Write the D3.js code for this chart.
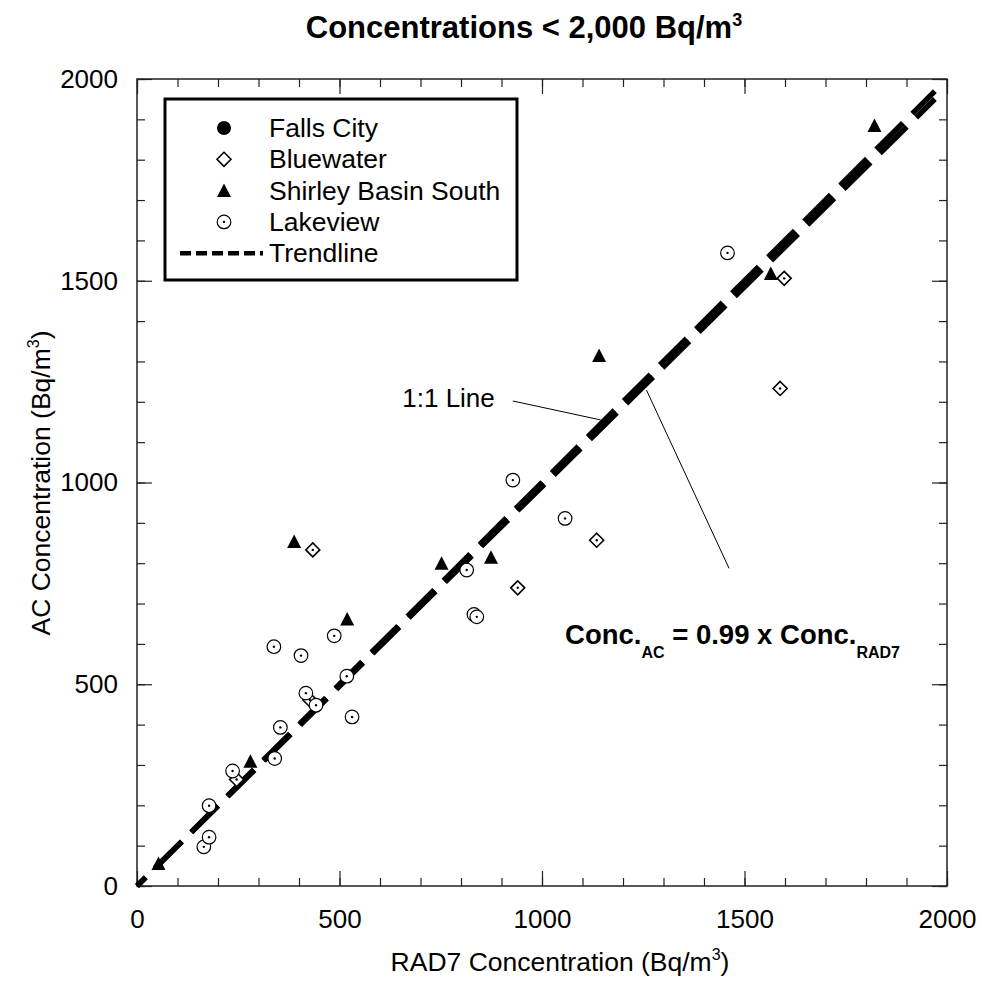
<!DOCTYPE html>
<html lang="en">
<head>
<meta charset="UTF-8">
<title>Concentrations &lt; 2,000 Bq/m3</title>
<script src="https://d3js.org/d3.v7.min.js"></script>
<style>
  body { margin: 0; background: #fff; }
  text { font-family: "Liberation Sans", Arial, sans-serif; fill: #000; }
  .tick text { font-size: 26px; }
</style>
</head>
<body>
<script>
// ---- data (RAD7, AC) ----
var fallsCity = [];
var bluewater = [[246, 264], [427, 461], [434, 833], [940, 739], [1135, 857], [1598, 1506], [1588, 1233]];
var shirleyBasin = [[53, 56], [280, 309], [388, 854], [519, 662], [752, 800], [874, 815], [1141, 1315], [1565, 1518], [1821, 1885]];
var lakeview = [[165, 97], [178, 121], [178, 199], [236, 285], [340, 316], [354, 393], [338, 593], [405, 571],
                [417, 478], [442, 448], [518, 520], [531, 419], [487, 620], [814, 783], [832, 673], [839, 667],
                [928, 1006], [1057, 911], [1458, 1569]];
var lineEnds = [0, 1970];
var trendSlope = 0.99;
var majorTicks = [0, 500, 1000, 1500, 2000];
var minorTicks = d3.range(0, 2001, 100);
var legendNames = ["Falls City", "Bluewater", "Shirley Basin South", "Lakeview", "Trendline"];

var width = 982, height = 1002;
var plotL = 137, plotR = 947, plotT = 79, plotB = 886;

var x = d3.scaleLinear().domain([0, 2000]).range([plotL, plotR]);
var y = d3.scaleLinear().domain([0, 2000]).range([plotB, plotT]);

var svg = d3.select("body").append("svg")
    .attr("width", width).attr("height", height);

// title
var title = svg.append("text")
    .attr("x", 524).attr("y", 38)
    .attr("text-anchor", "middle")
    .style("font-size", "31px").style("font-weight", "bold");
title.append("tspan").text("Concentrations < 2,000 Bq/m");
title.append("tspan").attr("dy", -12).style("font-size", "18px").text("3");

// frame
svg.append("rect")
    .attr("x", plotL).attr("y", plotT)
    .attr("width", plotR - plotL).attr("height", plotB - plotT)
    .attr("fill", "none").attr("stroke", "#222").attr("stroke-width", 1.5);

// minor ticks on all four sides, pointing in
function minorAxis(axisFn, transform) {
  var g = svg.append("g").attr("transform", transform)
      .call(axisFn.tickValues(minorTicks).tickSize(-8).tickFormat(""));
  g.select(".domain").remove();
}
minorAxis(d3.axisBottom(x), "translate(0," + plotB + ")");
minorAxis(d3.axisTop(x), "translate(0," + plotT + ")");
minorAxis(d3.axisLeft(y), "translate(" + plotL + ",0)");
minorAxis(d3.axisRight(y), "translate(" + plotR + ",0)");

var fmt = d3.format("d");
var xb = svg.append("g").attr("transform", "translate(0," + plotB + ")")
    .call(d3.axisBottom(x).tickValues(majorTicks).tickSize(-15).tickPadding(23.5).tickFormat(fmt));
var xt = svg.append("g").attr("transform", "translate(0," + plotT + ")")
    .call(d3.axisTop(x).tickValues(majorTicks).tickSize(-15).tickFormat(""));
var yl = svg.append("g").attr("transform", "translate(" + plotL + ",0)")
    .call(d3.axisLeft(y).tickValues(majorTicks).tickSize(-15).tickPadding(19).tickFormat(fmt));
var yr = svg.append("g").attr("transform", "translate(" + plotR + ",0)")
    .call(d3.axisRight(y).tickValues(majorTicks).tickSize(-15).tickFormat(""));
[xb, xt, yl, yr].forEach(function(g) {
  g.select(".domain").remove();
  g.selectAll(".tick text").attr("fill", "#000").style("font-family", "Liberation Sans, Arial, sans-serif");
});
svg.selectAll(".tick line").attr("stroke", "#222").attr("stroke-width", 1.2);

// axis titles
var xl = svg.append("text")
    .attr("x", 560).attr("y", 971)
    .attr("text-anchor", "middle").style("font-size", "26.5px");
xl.append("tspan").text("RAD7 Concentration (Bq/m");
xl.append("tspan").attr("dy", -11).style("font-size", "16px").text("3");
xl.append("tspan").attr("dy", 11).text(")");

var ylab = svg.append("text")
    .attr("transform", "translate(50,483) rotate(-90)")
    .attr("text-anchor", "middle").style("font-size", "26.5px");
ylab.append("tspan").text("AC Concentration (Bq/m");
ylab.append("tspan").attr("dy", -11).style("font-size", "16px").text("3");
ylab.append("tspan").attr("dy", 11).text(")");

// 1:1 line and trendline
var line = d3.line().x(function(d) { return x(d[0]); }).y(function(d) { return y(d[1]); });
var oneToOne = lineEnds.map(function(v) { return [v, v]; });
var trend = lineEnds.map(function(v) { return [v, v * trendSlope]; });
[oneToOne, trend].forEach(function(pts) {
  svg.append("path")
      .datum(pts)
      .attr("d", line)
      .attr("fill", "none")
      .attr("stroke", "#000")
      .attr("stroke-width", 5.5)
      .attr("stroke-dasharray", "37.7,13.2")
      .attr("stroke-dashoffset", 25.4);
});

// annotations
svg.append("text")
    .attr("x", x(655)).attr("y", y(1187))
    .style("font-size", "26px").text("1:1 Line");
svg.append("line")
    .attr("x1", x(928)).attr("y1", y(1202)).attr("x2", x(1145)).attr("y2", y(1155))
    .attr("stroke", "#000").attr("stroke-width", 1);
svg.append("line")
    .attr("x1", x(1258)).attr("y1", y(1229)).attr("x2", x(1462)).attr("y2", y(787))
    .attr("stroke", "#000").attr("stroke-width", 1);

var eq = svg.append("text")
    .attr("x", x(1057)).attr("y", y(600))
    .style("font-size", "27.5px").style("font-weight", "bold");
eq.append("tspan").text("Conc.");
eq.append("tspan").attr("dy", 14).style("font-size", "16px").text("AC");
eq.append("tspan").attr("dy", -14).text(" = 0.99 x Conc.");
eq.append("tspan").attr("dy", 14).style("font-size", "16px").text("RAD7");

// marker drawing
function drawCircleFilled(g) {
  g.append("circle").attr("r", 7).attr("fill", "#000");
}
function drawDiamond(g, dot) {
  g.append("path").attr("d", "M0,-7L7,0L0,7L-7,0Z")
      .attr("fill", "#fff").attr("stroke", "#000").attr("stroke-width", 1.6);
  if (dot) g.append("circle").attr("r", 1.2).attr("fill", "#000");
}
function drawTriangle(g) {
  g.append("path").attr("d", "M0,-7L7,6.5L-7,6.5Z").attr("fill", "#000");
}
function drawDotCircle(g) {
  g.append("circle").attr("r", 6.8).attr("fill", "#fff").attr("stroke", "#000").attr("stroke-width", 1.2);
  g.append("circle").attr("r", 1.2).attr("fill", "#000");
}

function plotSeries(data, drawer) {
  svg.append("g").selectAll("g").data(data).enter().append("g")
      .attr("transform", function(d) { return "translate(" + x(d[0]) + "," + y(d[1]) + ")"; })
      .each(function() { drawer(d3.select(this), true); });
}
plotSeries(bluewater, drawDiamond);
plotSeries(lakeview, drawDotCircle);
plotSeries(shirleyBasin, drawTriangle);
plotSeries(fallsCity, drawCircleFilled);

// legend
var legend = svg.append("g");
legend.append("rect")
    .attr("x", 165).attr("y", 99).attr("width", 352).attr("height", 181)
    .attr("fill", "#fff").attr("stroke", "#000").attr("stroke-width", 3);
var drawers = [drawCircleFilled, drawDiamond, drawTriangle, drawDotCircle];
legendNames.forEach(function(name, i) {
  var cy = 128 + i * 31.3;
  if (i < 4) {
    var g = legend.append("g").attr("transform", "translate(224," + cy + ")");
    drawers[i](g, false);
  } else {
    legend.append("line")
        .attr("x1", 180).attr("x2", 263).attr("y1", cy).attr("y2", cy)
        .attr("stroke", "#000").attr("stroke-width", 4.5)
        .attr("stroke-dasharray", "11,5");
  }
  legend.append("text")
      .attr("x", 269).attr("y", cy + 9)
      .style("font-size", "26.5px").text(name);
});
</script>
</body>
</html>
